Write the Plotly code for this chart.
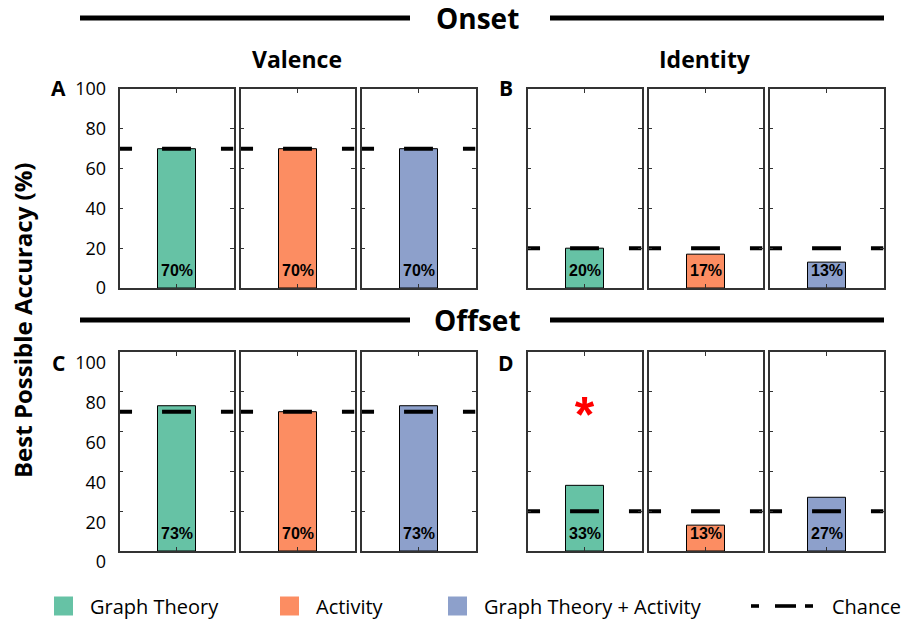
import plotly.graph_objects as go

W, H = 907, 621

# ---- data -------------------------------------------------------------
series_names = ["Graph Theory", "Activity", "Graph Theory + Activity"]
series_colors = ["#66c2a5", "#fc8d62", "#8da0cb"]
panel_letters = ["A", "B", "C", "D"]
row_titles = ["Onset", "Offset"]
col_titles = ["Valence", "Identity"]

# best possible accuracy (%) for each feature set
acc_onset_valence = [70, 70, 70]
acc_onset_identity = [20, 17, 13]
acc_offset_valence = [73, 70, 73]
acc_offset_identity = [33, 13, 27]

# chance level (%) for panels A, B, C, D
chance_level = [70, 20, 70, 20]

# significance above chance for each feature set
sig_onset_valence = [False, False, False]
sig_onset_identity = [False, False, False]
sig_offset_valence = [False, False, False]
sig_offset_identity = [True, False, False]

y_ticks = [0, 20, 40, 60, 80, 100]
y_title = "Best Possible Accuracy (%)"
chance_name = "Chance"

# ---- layout constants (pixels) ---------------------------------------
FONT = "Open Sans, Lato, sans-serif"
LABEL_FONT = "Liberation Sans, Arial, sans-serif"
AXIS_COLOR = "#333333"
row_top_px = [89, 352]
plot_h_px = 199
group_left_px = [119.5, 527.5]
sub_w_px = 114
sub_gap_px = 7
x_range = [-1.5, 1.5]
bar_width = 1.0
dash_half = 0.38      # half length of a chance dash (x units)
dash_period = 1.55    # spacing of chance dashes (x units)
star_y = 66
tick_shift = [0, 11]  # vertical offset of the tick labels per row


def px_x(v):
    return v / W


def px_y(v):
    return 1 - v / H


panel_acc = [acc_onset_valence, acc_onset_identity,
             acc_offset_valence, acc_offset_identity]
panel_sig = [sig_onset_valence, sig_onset_identity,
             sig_offset_valence, sig_offset_identity]

fig = go.Figure()
layout = {}
annotations = []
shapes = []

idx = 0
for p in range(4):
    r, c = divmod(p, 2)
    for s in range(3):
        idx += 1
        xn = "x" if idx == 1 else f"x{idx}"
        yn = "y" if idx == 1 else f"y{idx}"
        xk = "xaxis" if idx == 1 else f"xaxis{idx}"
        yk = "yaxis" if idx == 1 else f"yaxis{idx}"
        x0 = group_left_px[c] + s * (sub_w_px + sub_gap_px)
        x1 = x0 + sub_w_px
        y0 = row_top_px[r]
        y1 = y0 + plot_h_px

        val = panel_acc[p][s]
        fig.add_trace(go.Bar(
            x=[0], y=[val], width=bar_width,
            marker=dict(color=series_colors[s],
                        line=dict(color="black", width=1)),
            xaxis=xn, yaxis=yn, showlegend=False, hoverinfo="skip",
        ))

        # dashed chance line, one dash centred on the bar
        xs, ys = [], []
        ch = chance_level[p]
        for k in range(-3, 4):
            a = max(k * dash_period - dash_half, x_range[0])
            b = min(k * dash_period + dash_half, x_range[1])
            if b > a:
                xs += [a, b, None]
                ys += [ch, ch, None]
        fig.add_trace(go.Scatter(
            x=xs, y=ys, mode="lines",
            line=dict(color="black", width=4),
            xaxis=xn, yaxis=yn, showlegend=False, hoverinfo="skip",
        ))

        if panel_sig[p][s]:
            fig.add_trace(go.Scatter(
                x=[0], y=[star_y], mode="text", text=["<b>*</b>"],
                textfont=dict(size=50, color="red", family=LABEL_FONT),
                textposition="middle center",
                xaxis=xn, yaxis=yn, showlegend=False, hoverinfo="skip",
            ))

        annotations.append(dict(
            x=0, y=0, xref=xn, yref=yn, text=f"<b>{val}%</b>",
            showarrow=False, yshift=18, yanchor="middle",
            font=dict(family=LABEL_FONT, size=16, color="black"),
        ))

        show_labels = (c == 0 and s == 0)
        layout[xk] = dict(
            domain=[px_x(x0), px_x(x1)], range=x_range, anchor=yn,
            showline=True, linecolor=AXIS_COLOR, linewidth=1.5,
            mirror="ticks", ticks="inside", ticklen=4, tickcolor=AXIS_COLOR,
            tickvals=[0], showticklabels=False, showgrid=False,
            zeroline=False, fixedrange=True, automargin=False,
        )
        layout[yk] = dict(
            domain=[px_y(y1), px_y(y0)], range=[0, 100], anchor=xn,
            showline=True, linecolor=AXIS_COLOR, linewidth=1.5,
            mirror="ticks", ticks="inside", ticklen=4, tickcolor=AXIS_COLOR,
            tickvals=y_ticks, showticklabels=show_labels,
            tickfont=dict(family=FONT, size=18, color="black"),
            ticklabelstandoff=8, ticklabelshift=tick_shift[r],
            showgrid=False, zeroline=False, fixedrange=True, automargin=False,
        )

    # panel letter
    annotations.append(dict(
        x=px_x(58 if c == 0 else 506), y=px_y(88 if r == 0 else 363),
        xref="paper", yref="paper", text=f"<b>{panel_letters[p]}</b>",
        showarrow=False, xanchor="center", yanchor="middle",
        font=dict(family=FONT, size=21, color="black"),
    ))

# row headers with rules on both sides
for r, (title, yc) in enumerate(zip(row_titles, [18, 320])):
    annotations.append(dict(
        x=px_x(478), y=px_y(yc), xref="paper", yref="paper",
        text=f"<b>{title}</b>", showarrow=False,
        xanchor="center", yanchor="middle",
        font=dict(family=FONT, size=28, color="black"),
    ))
    for a, b in [(80, 410), (550, 884)]:
        shapes.append(dict(type="line", xref="paper", yref="paper",
                           x0=px_x(a), x1=px_x(b), y0=px_y(yc), y1=px_y(yc),
                           line=dict(color="black", width=5)))

# column headers
for title, xc in zip(col_titles, [297, 705]):
    annotations.append(dict(
        x=px_x(xc), y=px_y(59), xref="paper", yref="paper",
        text=f"<b>{title}</b>", showarrow=False,
        xanchor="center", yanchor="middle",
        font=dict(family=FONT, size=23, color="black"),
    ))

# shared y-axis title
annotations.append(dict(
    x=px_x(22), y=px_y(321), xref="paper", yref="paper",
    text=f"<b>{y_title}</b>", showarrow=False, textangle=-90,
    xanchor="center", yanchor="middle",
    font=dict(family=FONT, size=24, color="black"),
))

# legend
leg_y = 606
sq = 19
for name, color, sx in zip(series_names, series_colors, [54, 280, 448]):
    shapes.append(dict(type="rect", xref="paper", yref="paper",
                       x0=px_x(sx), x1=px_x(sx + sq),
                       y0=px_y(leg_y + sq / 2), y1=px_y(leg_y - sq / 2),
                       fillcolor=color, line=dict(width=0)))
    annotations.append(dict(
        x=px_x(sx + sq + 15), y=px_y(leg_y), xref="paper", yref="paper",
        text=name, showarrow=False, xanchor="left", yanchor="middle",
        font=dict(family=FONT, size=20, color="black"),
    ))
# chance key: short, long, short dash
for a, b in [(751, 759), (775, 796), (805, 813)]:
    shapes.append(dict(type="rect", xref="paper", yref="paper",
                       x0=px_x(a), x1=px_x(b),
                       y0=px_y(leg_y + 1.8), y1=px_y(leg_y - 1.8),
                       fillcolor="black", line=dict(width=0)))
annotations.append(dict(
    x=px_x(830), y=px_y(leg_y), xref="paper", yref="paper",
    text=chance_name, showarrow=False, xanchor="left", yanchor="middle",
    font=dict(family=FONT, size=20, color="black"),
))

fig.update_layout(
    width=W, height=H,
    margin=dict(l=0, r=0, t=0, b=0, autoexpand=False),
    paper_bgcolor="white", plot_bgcolor="white",
    barmode="overlay", showlegend=False,
    annotations=annotations, shapes=shapes,
    **layout,
)

fig.write_html("out.html", config={"displayModeBar": False})
